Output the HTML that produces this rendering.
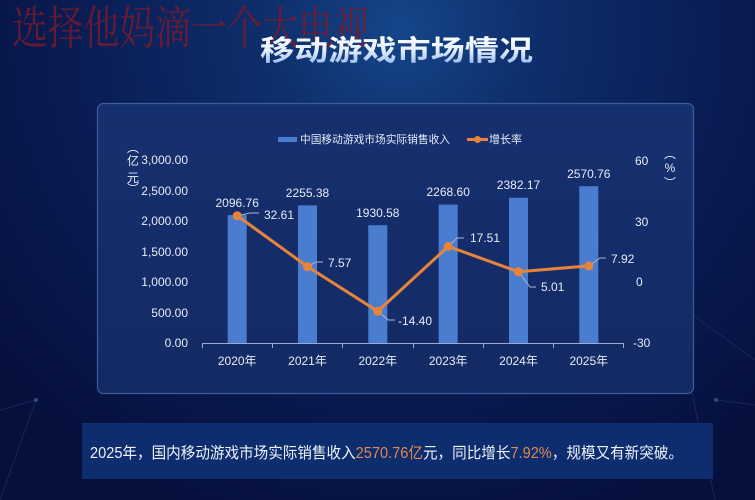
<!DOCTYPE html>
<html><head><meta charset="utf-8"><style>
html,body{margin:0;padding:0;width:755px;height:500px;overflow:hidden;background:#07154a;}
svg{display:block;}
text{font-family:"Liberation Sans","Noto Sans CJK SC",sans-serif;}
</style></head><body>
<svg width="755" height="500" viewBox="0 0 755 500" xmlns="http://www.w3.org/2000/svg">
<defs>
<radialGradient id="bg" cx="400" cy="30" r="520" gradientUnits="userSpaceOnUse">
<stop offset="0" stop-color="#15468a"/>
<stop offset="0.25" stop-color="#0e2f6c"/>
<stop offset="0.6" stop-color="#0a1d55"/>
<stop offset="1" stop-color="#06103d"/>
</radialGradient>
<linearGradient id="panel" x1="0" y1="0" x2="0" y2="1">
<stop offset="0" stop-color="#16306f"/>
<stop offset="1" stop-color="#132a64"/>
</linearGradient>
<linearGradient id="title" x1="0" y1="0" x2="0" y2="1">
<stop offset="0" stop-color="#ffffff"/>
<stop offset="0.5" stop-color="#e4eeff"/>
<stop offset="1" stop-color="#8fb3ea"/>
</linearGradient>
</defs>
<rect x="0" y="0" width="755" height="500" fill="url(#bg)"/>
<!-- faint decorative lines -->
<g stroke="#3a5a9a" stroke-width="1" opacity="0.3" fill="none">
<line x1="36" y1="400" x2="0" y2="410"/>
<line x1="36" y1="400" x2="0" y2="500"/>
<line x1="672" y1="300" x2="755" y2="360"/>
<line x1="672" y1="300" x2="715" y2="500"/>
<line x1="716" y1="400" x2="755" y2="405"/>
</g>
<circle cx="36" cy="400" r="2" fill="#4a6aa8" opacity="0.6"/>
<circle cx="716" cy="400" r="2" fill="#4a6aa8" opacity="0.6"/>
<circle cx="672" cy="300" r="2" fill="#4a6aa8" opacity="0.5"/>

<!-- watermark -->
<text x="12" y="44" font-size="46" fill="#7a1a2c" fill-opacity="0.8" textLength="358" lengthAdjust="spacingAndGlyphs" style="font-family:'Liberation Serif','Noto Serif CJK SC',serif;">选择他妈滴一个大电视</text>

<!-- title -->
<text x="260" y="60" font-size="28" font-weight="bold" fill="url(#title)" textLength="273" lengthAdjust="spacingAndGlyphs">移动游戏市场情况</text>

<!-- panel -->
<rect x="97.5" y="103.5" width="596" height="290" rx="6" fill="url(#panel)" stroke="#3d5c9c" stroke-width="1.2"/>

<!-- legend -->
<rect x="278" y="137" width="19" height="5" fill="#4a7dd0"/>
<text x="300" y="143" font-size="11" fill="#e6ecf8" textLength="150" lengthAdjust="spacingAndGlyphs">中国移动游戏市场实际销售收入</text>
<line x1="467" y1="139.5" x2="488" y2="139.5" stroke="#e8843a" stroke-width="3"/>
<circle cx="477.5" cy="139.5" r="3.5" fill="#e8843a"/>
<text x="489" y="143" font-size="11" fill="#e6ecf8" textLength="33" lengthAdjust="spacingAndGlyphs">增长率</text>

<!-- axis titles -->
<g font-size="12" fill="#e6ecf8" text-anchor="middle">
<text x="133" y="152">︵</text>
<text x="133" y="165">亿</text>
<text x="133" y="182">元</text>
<text x="133" y="193">︶</text>
<text x="670" y="158">︵</text>
<text x="670" y="172">%</text>
<text x="670" y="187">︶</text>
</g>

<!-- left axis labels -->
<g font-size="12" fill="#e6ecf8" text-anchor="end">
<text x="188" y="164">3,000.00</text>
<text x="188" y="195">2,500.00</text>
<text x="188" y="225">2,000.00</text>
<text x="188" y="256">1,500.00</text>
<text x="188" y="286">1,000.00</text>
<text x="188" y="317">500.00</text>
<text x="188" y="347">0.00</text>
</g>
<!-- right axis labels -->
<g font-size="12" fill="#e6ecf8">
<text x="635" y="165">60</text>
<text x="635" y="226">30</text>
<text x="636" y="286">0</text>
<text x="633" y="347">-30</text>
</g>

<!-- bars -->
<g fill="#4a7dd0">
<rect x="227.7" y="215.1" width="19" height="127.9"/>
<rect x="298" y="205.4" width="19" height="137.6"/>
<rect x="368.3" y="225.2" width="19" height="117.8"/>
<rect x="438.7" y="204.6" width="19" height="138.4"/>
<rect x="509" y="197.7" width="19" height="145.3"/>
<rect x="579.3" y="186.2" width="19" height="156.8"/>
</g>

<!-- x axis -->
<g stroke="#9aaad0" stroke-width="1">
<line x1="202" y1="343.5" x2="624" y2="343.5"/>
<line x1="202.5" y1="343" x2="202.5" y2="348"/>
<line x1="272.5" y1="343" x2="272.5" y2="348"/>
<line x1="342.5" y1="343" x2="342.5" y2="348"/>
<line x1="413.5" y1="343" x2="413.5" y2="348"/>
<line x1="483.5" y1="343" x2="483.5" y2="348"/>
<line x1="553.5" y1="343" x2="553.5" y2="348"/>
<line x1="623.5" y1="343" x2="623.5" y2="348"/>
</g>
<g font-size="12" fill="#e6ecf8" text-anchor="middle">
<text x="237.2" y="365">2020年</text>
<text x="307.5" y="365">2021年</text>
<text x="377.8" y="365">2022年</text>
<text x="448.2" y="365">2023年</text>
<text x="518.5" y="365">2024年</text>
<text x="588.8" y="365">2025年</text>
</g>

<!-- bar value labels -->
<g font-size="12" fill="#e6ecf8" text-anchor="middle">
<text x="237.2" y="207">2096.76</text>
<text x="307.5" y="197">2255.38</text>
<text x="377.8" y="217">1930.58</text>
<text x="448.2" y="196">2268.60</text>
<text x="518.5" y="189">2382.17</text>
<text x="588.8" y="178">2570.76</text>
</g>

<!-- leader lines -->
<g stroke="#aab6d2" stroke-width="1" fill="none">
<polyline points="237,216 250,213 259,213"/>
<polyline points="307.5,266.6 316,262 323,262"/>
<polyline points="378,311 388,320 395,320"/>
<polyline points="448.2,246.4 457,238 464,238"/>
<polyline points="518.5,271.8 530,287 536,287"/>
<polyline points="588.8,265.9 600,258 606,258"/>
</g>

<!-- line -->
<polyline points="237.2,215.7 307.5,266.6 377.8,311.3 448.2,246.4 518.5,271.8 588.8,265.9" fill="none" stroke="#e8843a" stroke-width="3" stroke-linejoin="round"/>
<g fill="#e8843a">
<circle cx="237.2" cy="215.7" r="4.5"/>
<circle cx="307.5" cy="266.6" r="4.5"/>
<circle cx="377.8" cy="311.3" r="4.5"/>
<circle cx="448.2" cy="246.4" r="4.5"/>
<circle cx="518.5" cy="271.8" r="4.5"/>
<circle cx="588.8" cy="265.9" r="4.5"/>
</g>
<g font-size="12" fill="#e6ecf8">
<text x="264" y="219">32.61</text>
<text x="328" y="267">7.57</text>
<text x="398" y="325">-14.40</text>
<text x="470" y="242">17.51</text>
<text x="541" y="291">5.01</text>
<text x="611" y="263">7.92</text>
</g>

<!-- bottom box -->
<rect x="82" y="423" width="631" height="56" fill="#0e2d6e"/>
<text x="90" y="458" font-size="15.5" fill="#eef2fb" textLength="593" lengthAdjust="spacingAndGlyphs">2025年，国内移动游戏市场实际销售收入<tspan fill="#e08a4e">2570.76亿</tspan>元，同比增长<tspan fill="#e08a4e">7.92%</tspan>，规模又有新突破。</text>
</svg>
</body></html>
